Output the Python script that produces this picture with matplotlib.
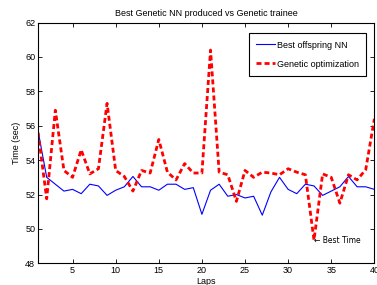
import matplotlib
matplotlib.use("Agg")
import matplotlib.pyplot as plt
import numpy as np

plt.rcParams['font.family'] = ['Liberation Sans', 'DejaVu Sans']

laps = np.arange(1, 41)

best_nn = [55.7, 53.0, 52.6, 52.2, 52.3, 52.05, 52.6, 52.5, 51.95, 52.25,
           52.45, 53.05, 52.45, 52.45, 52.25, 52.6, 52.6, 52.3, 52.4, 50.85,
           52.25, 52.6, 51.9, 52.0, 51.8, 51.9, 50.8, 52.15, 53.0, 52.3,
           52.05, 52.6, 52.5, 51.95, 52.2, 52.45, 53.05, 52.45, 52.45, 52.3]

genetic = [55.6, 51.75, 56.9, 53.4, 53.0, 54.6, 53.2, 53.5, 57.3, 53.4,
           53.05, 52.2, 53.4, 53.25, 55.2, 53.3, 52.85, 53.8, 53.25, 53.25,
           60.4, 53.3, 53.15, 51.6, 53.4, 53.0, 53.3, 53.25, 53.15, 53.5,
           53.3, 53.15, 49.35, 53.2, 53.0, 51.5, 53.15, 52.85, 53.45, 56.4]

fig = plt.figure(figsize=(3.77, 2.85), dpi=100)
ax = fig.add_axes([0.101, 0.076, 0.892, 0.845])

ax.plot(laps, best_nn, color='blue', linewidth=0.8, label='Best offspring NN')
ax.plot(laps, genetic, color='red', linewidth=2, linestyle='--', dashes=(1.8, 1.1),
        label='Genetic optimization')

# arrow annotation at the minimum
ax.text(33, 49.35, '\u2190 Best Time', fontsize=5.5, va='center', ha='left',
        family=['DejaVu Sans'])

ax.set_xlim(1, 40)
ax.set_ylim(48, 62)
ax.set_xticks([5, 10, 15, 20, 25, 30, 35, 40])
ax.set_yticks(np.arange(48, 63, 2))
ax.tick_params(direction='in', top=True, right=True, labelsize=6.5, length=3, width=0.6, pad=2)
for s in ax.spines.values():
    s.set_linewidth(0.8)

ax.set_title('Best Genetic NN produced vs Genetic trainee', fontsize=6.5, pad=5)
ax.set_xlabel('Laps', fontsize=6.5, labelpad=1)
ax.set_ylabel('Time (sec)', fontsize=6.5, labelpad=3)

leg = ax.legend(loc='upper right', fontsize=6.5, fancybox=False, edgecolor='black',
                framealpha=1, borderpad=0.8, labelspacing=1.1, handlelength=2.1,
                handletextpad=0.2, borderaxespad=0, bbox_to_anchor=(0.975, 0.955))
leg.get_frame().set_linewidth(0.8)

fig.savefig('out.png', dpi=100)
